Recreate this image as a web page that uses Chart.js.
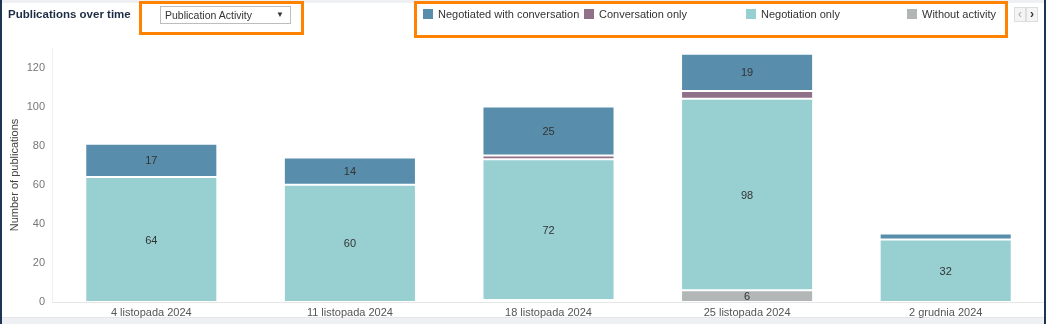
<!DOCTYPE html>
<html>
<head>
<meta charset="utf-8">
<script src="https://cdn.jsdelivr.net/npm/chart.js@4.4.1/dist/chart.umd.min.js"></script>
<style>
  body { margin:0; width:1046px; height:324px; overflow:hidden; background:#fff; position:relative;
         font-family:'Liberation Sans', Arial, sans-serif; }
  #pubChart { position:absolute; left:0; top:0; }
  .band-top { position:absolute; left:0; top:0; width:1046px; height:3px; background:#eef0f3; }
  .band-bottom { position:absolute; left:0; top:317px; width:1046px; height:7px; background:#eef0f3; border-top:1px solid #e4e6ea; box-sizing:border-box; }
  .edge-left { position:absolute; left:0; top:0; width:2px; height:324px; background:#1c3553; }
  .edge-right { position:absolute; left:1044px; top:0; width:2px; height:324px; background:#1c3553; }
  .title { position:absolute; left:8px; top:8px; font-weight:bold; font-size:11.5px; color:#1d2d44; }
  .select { position:absolute; left:160px; top:6px; width:131px; height:18px; border:1px solid #bdbdbd; box-sizing:border-box;
            background:#fff; font-size:10.5px; color:#333; line-height:16px; padding-left:4px; }
  .select span { position:absolute; right:6px; top:0; font-size:8px; color:#333; }
  .orange { position:absolute; border:3px solid #ff8300; box-sizing:border-box; }
  .leg { position:absolute; top:8px; font-size:11px; color:#333; white-space:nowrap; }
  .leg i { display:inline-block; width:10px; height:10px; margin-right:5px; vertical-align:-1px; }
  .nav { position:absolute; top:7px; width:12px; height:15px; border:1px solid #ddd; box-sizing:border-box; background:#f4f4f4;
         font-size:12px; line-height:12px; text-align:center; color:#aaa; }
</style>
</head>
<body>
<div class="band-top"></div>
<div class="band-bottom"></div>
<canvas id="pubChart" width="1046" height="324"></canvas>
<div class="edge-left"></div>
<div class="edge-right"></div>
<div class="title">Publications over time</div>
<div class="select">Publication Activity<span>&#9660;</span></div>
<div class="orange" style="left:139px;top:1px;width:165px;height:34px"></div>
<div class="orange" style="left:414px;top:1px;width:594px;height:37px"></div>
<div id="legend"></div>
<div class="nav" style="left:1014px">&#8249;</div>
<div class="nav" style="left:1026px;color:#333;font-weight:bold">&#8250;</div>
<script>
// weeks on the x axis
let categories = ['4 listopada 2024', '11 listopada 2024', '18 listopada 2024', '25 listopada 2024', '2 grudnia 2024'];

// series, bottom of the stack first
let withoutActivity = [0, 0, 1, 6, 0];
let negotiationOnly = [64, 60, 72, 98, 32];
let conversationOnly = [0, 0, 2, 4, 0];
let negotiatedWithConversation = [17, 14, 25, 19, 3];

let yTicks = [0, 20, 40, 60, 80, 100, 120];

Chart.defaults.font.family = "'Liberation Sans', Arial, sans-serif";

const ctx = document.getElementById('pubChart');

function makeSet(label, data, color) {
    return {
        label: label,
        data: data,
        backgroundColor: color,
        borderColor: '#ffffff',
        borderWidth: 1,
        borderSkipped: false,
        categoryPercentage: 1,
        barPercentage: 0.665
    };
}

let datasets = [
    makeSet('Without activity', withoutActivity, '#b3b6b7'),
    makeSet('Negotiation only', negotiationOnly, '#98d0d2'),
    makeSet('Conversation only', conversationOnly, '#8f7289'),
    makeSet('Negotiated with conversation', negotiatedWithConversation, '#588eab')
];

// value labels in the middle of each segment, skipped when too thin
const barLabels = {
    id: 'barLabels',
    afterDatasetsDraw(chart) {
        const c = chart.ctx;
        c.save();
        c.font = "11px 'Liberation Sans', Arial, sans-serif";
        c.fillStyle = '#333';
        c.textAlign = 'center';
        c.textBaseline = 'middle';
        chart.data.datasets.forEach((ds, i) => {
            chart.getDatasetMeta(i).data.forEach((bar, j) => {
                let v = ds.data[j];
                if (!v) return;
                if (Math.abs(bar.base - bar.y) < 10) return;
                c.fillText(v, bar.x, (bar.y + bar.base) / 2 + 1);
            });
        });
        c.restore();
    }
};

new Chart(ctx, {
    type: 'bar',
    data: {
        labels: categories,
        datasets: datasets
    },
    options: {
        responsive: false,
        animation: false,
        layout: { padding: { top: 48, right: 1, left: 0, bottom: 0 } },
        plugins: { legend: { display: false }, tooltip: { enabled: false } },
        scales: {
            x: {
                stacked: true,
                grid: { display: false, drawTicks: false },
                border: { color: '#e6e6e6' },
                ticks: { color: '#555', font: { size: 11 }, padding: 4, maxRotation: 0 },
                afterFit(s) { s.height = 22; }
            },
            y: {
                stacked: true,
                min: 0,
                max: 130,
                grid: { display: false, drawTicks: false },
                border: { color: '#eeeeee' },
                ticks: { stepSize: 20, color: '#777', font: { size: 11 }, padding: 7 },
                afterBuildTicks(s) { s.ticks = yTicks.map(v => ({ value: v })); },
                afterFit(s) { s.width = 52; },
                title: {
                    display: true,
                    text: 'Number of publications',
                    color: '#444',
                    font: { size: 11 },
                    padding: { top: 8, bottom: 0 }
                }
            }
        }
    },
    plugins: [barLabels]
});

// html legend, same order as the reference (top of stack first)
let legendX = [423, 584, 746, 907];
let legendEl = document.getElementById('legend');
datasets.slice().reverse().forEach((ds, i) => {
    let item = document.createElement('div');
    item.className = 'leg';
    item.style.left = legendX[i] + 'px';
    item.innerHTML = '<i style="background:' + ds.backgroundColor + '"></i>' + ds.label;
    legendEl.appendChild(item);
});
</script>
</body>
</html>
